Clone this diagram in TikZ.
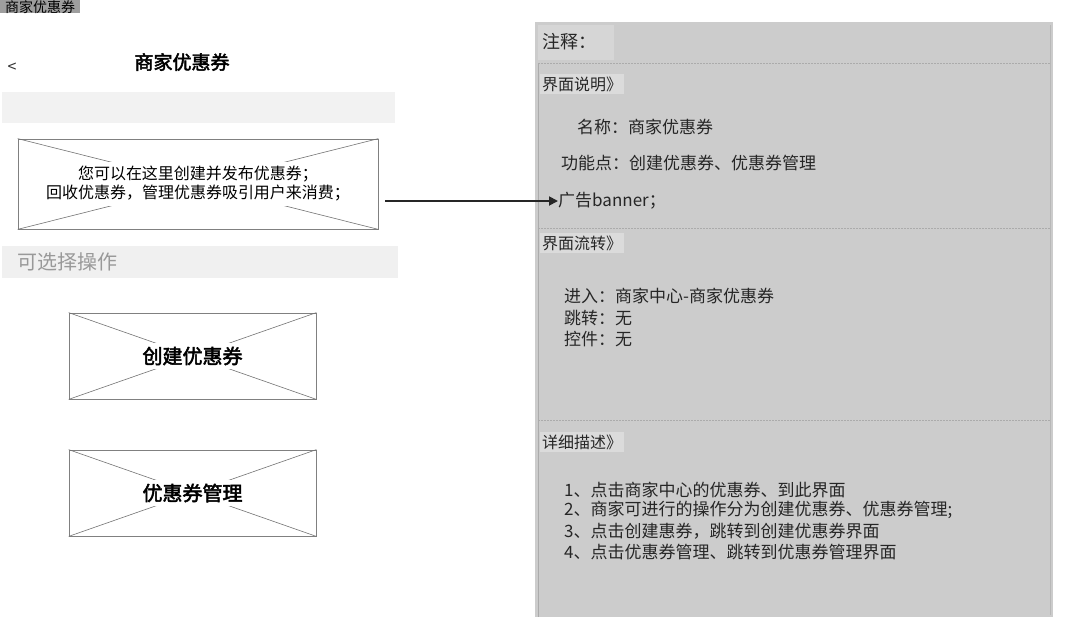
\documentclass[tikz,border=0pt]{standalone}
\usepackage{fontspec}
\setmainfont{Noto Sans CJK SC}[AutoFakeBold=2.5]
\usetikzlibrary{arrows.meta,positioning}

\newcommand{\fsz}[2]{\fontsize{#1}{#2}\selectfont}

\tikzset{
  imgbox/.style={draw=black!50, line width=0.8pt, fill=white, inner sep=0pt},
  imgx/.style={draw=black!55, line width=0.6pt},
  imglabel/.style={fill=white, inner xsep=3pt, inner ysep=4pt},
  note/.style={anchor=west, inner sep=0pt, text=black!85, font=\fsz{17}{20}},
  tag/.style={anchor=west, fill=black!14, inner xsep=2pt, inner ysep=3pt, text=black!85, font=\fsz{16}{18}},
  sepline/.style={draw=black!33, line width=0.8pt, dash pattern=on 2pt off 1pt},
}

\begin{document}
\begin{tikzpicture}[x=1pt, y=-1pt]
\useasboundingbox (0,0) rectangle (1074,625);
\fill[white] (0,0) rectangle (1074,625);

% ── Página (izquierda) ───────────────────────────────────────
\node[anchor=north west, fill=black!38, inner xsep=5pt, inner ysep=0pt,
      font=\fsz{14}{14}] (pagetag) at (0,0) {商家优惠券};

\node[font=\fsz{16}{16}, text=black!80] (back) at (12,68) {<};
\node[font=\bfseries\fsz{19}{19}] (title) at (182,62) {商家优惠券};

\fill[black!5] (2,92) rectangle (395,123);   % barra bajo el título

% imagen banner
\node[imgbox, minimum width=360pt, minimum height=90pt] (banner) at (198,184) {};
\draw[imgx] (banner.north west) -- (banner.south east);
\draw[imgx] (banner.south west) -- (banner.north east);
\node[imglabel, align=center, font=\fsz{16}{19}] (bannertxt) at (banner.center)
    {您可以在这里创建并发布优惠券；\\回收优惠券，管理优惠券吸引用户来消费；};

% opciones
\fill[black!6] (2,246) rectangle (398,278);
\node[anchor=west, inner sep=0pt, text=black!40, font=\fsz{20}{20}] (optitle) at (17,262) {可选择操作};

\node[imgbox, minimum width=247pt, minimum height=86pt] (create) at (192.5,356) {};
\draw[imgx] (create.north west) -- (create.south east);
\draw[imgx] (create.south west) -- (create.north east);
\node[imglabel, font=\bfseries\fsz{20}{20}] (createtxt) at (create.center) {创建优惠券};

\node[imgbox, minimum width=247pt, minimum height=86pt] (manage) at (192.5,493) {};
\draw[imgx] (manage.north west) -- (manage.south east);
\draw[imgx] (manage.south west) -- (manage.north east);
\node[imglabel, font=\bfseries\fsz{20}{20}] (managetxt) at (manage.center) {优惠券管理};

% ── Anotaciones (derecha) ────────────────────────────────────
\fill[black!20] (535,22) rectangle (1053,617);
\fill[black!16] (538,25) rectangle (614,60);
\draw[black!28, line width=1pt] (1050,25) -- (1050,615);
\node[anchor=west, inner sep=0pt, text=black!85, font=\fsz{18}{18}] (notetitle) at (542,42) {注释：};

\draw[black!33, line width=0.8pt] (538,63) -- (538,617);
\draw[sepline] (538,63)  -- (1050,63);
\draw[sepline] (538,228) -- (1050,228);
\draw[sepline] (538,420) -- (1050,420);

%界面说明
\node[tag] (desctag) at (540,84) {界面说明》};
\node[note] (name)   at (577,127) {名称：商家优惠券};
\node[note] (func)   at (561,163) {功能点：创建优惠券、优惠券管理};
\node[note] (ad)     at (558,201) {广告banner；};

% 界面流转
\node[tag] (flowtag) at (540,243) {界面流转》};
\node[note] (enter)  at (564,296) {进入：商家中心-商家优惠券};
\node[note] (jump)   at (564,318) {跳转：无};
\node[note] (ctrl)   at (564,339) {控件：无};

% 详细描述
\node[tag] (detailtag) at (540,442) {详细描述》};
\node[note] (step1) at (564,490) {1、点击商家中心的优惠券、到此界面};
\node[note] (step2) at (564,510) {2、商家可进行的操作分为创建优惠券、优惠券管理;};
\node[note] (step3) at (564,531) {3、点击创建惠券，跳转到创建优惠券界面};
\node[note] (step4) at (564,552) {4、点击优惠券管理、跳转到优惠券管理界面};

% flecha banner → nota
\path (banner.east |- ad.west) ++(7,0) coordinate (arrowstart);
\draw[line width=1.8pt, black!85, -{Triangle[length=9pt, width=9pt]}]
    (arrowstart) -- (ad.west);

\end{tikzpicture}
\end{document}
